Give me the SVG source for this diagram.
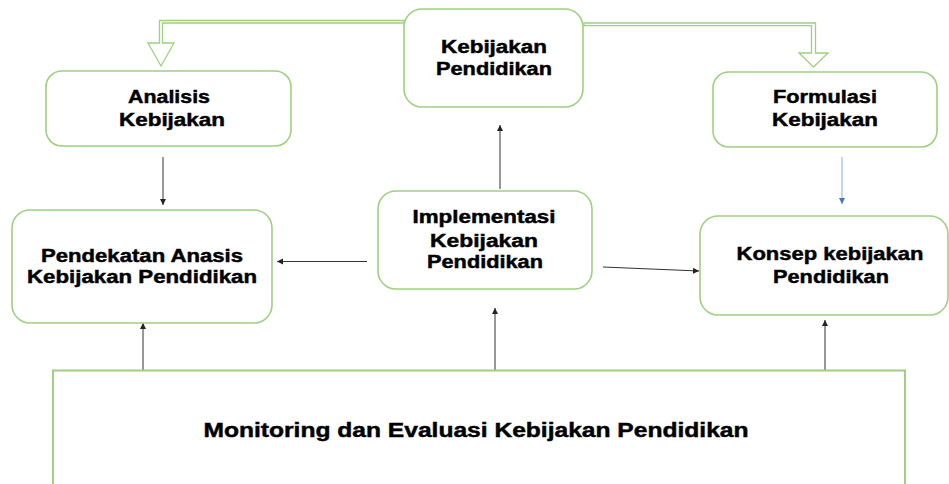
<svg xmlns="http://www.w3.org/2000/svg" width="949" height="484" viewBox="0 0 949 484">
<style>
.box{fill:#fff;stroke:#9dd07f;stroke-width:1.6}
.blk{fill:#fff;stroke:#9dd07f;stroke-width:1.3;stroke-linejoin:miter}
.t{font-family:"Liberation Sans",Arial,sans-serif;font-weight:bold;font-size:18px;fill:#000;stroke:#000;stroke-width:0.45;text-anchor:middle}
.ln{stroke:#333;stroke-width:1;fill:none}
.bl{stroke:#9fb8e6;stroke-width:1.2;fill:none}
</style>
<defs>
<marker id="ah" markerUnits="userSpaceOnUse" markerWidth="8" markerHeight="8" refX="6" refY="3" orient="auto">
<path d="M0,0 L6,3 L0,6 Z" fill="#222"/>
</marker>
<marker id="ahb" markerUnits="userSpaceOnUse" markerWidth="8" markerHeight="8" refX="6" refY="3" orient="auto">
<path d="M0,0 L6,3 L0,6 Z" fill="#4472c4"/>
</marker>
</defs>

<g id="connectors">
<polygon class="blk" points="404,20.5 159.5,20.5 159.5,43 148,43 161,66 174,43 162.5,43 162.5,23 404,23"/>
<polygon class="blk" points="584,23 815.5,23 815.5,53 828,53 813.5,67 799,53 811.5,53 811.5,25.7 584,25.7"/>
<line class="ln" x1="163" y1="157" x2="163" y2="205" marker-end="url(#ah)"/>
<line class="ln" x1="367" y1="261.5" x2="277" y2="261.5" marker-end="url(#ah)"/>
<line class="ln" x1="500" y1="189" x2="500" y2="125" marker-end="url(#ah)"/>
<line class="ln" x1="603" y1="267" x2="699" y2="271" marker-end="url(#ah)"/>
<line class="bl" x1="842" y1="157" x2="842" y2="204" marker-end="url(#ahb)"/>
<line class="ln" x1="143" y1="370" x2="143" y2="323" marker-end="url(#ah)"/>
<line class="ln" x1="495" y1="379" x2="495" y2="308" marker-end="url(#ah)"/>
<line class="ln" x1="825" y1="370" x2="825" y2="320" marker-end="url(#ah)"/>
</g>

<g id="kebijakan-pendidikan">
<rect class="box" x="404" y="9" width="179" height="98" rx="18"/>
<text class="t" x="494" y="53" textLength="106" lengthAdjust="spacingAndGlyphs">Kebijakan</text>
<text class="t" x="494" y="75" textLength="116" lengthAdjust="spacingAndGlyphs">Pendidikan</text>
</g>

<g id="analisis-kebijakan">
<rect class="box" x="46" y="71" width="245" height="75" rx="16"/>
<text class="t" x="169" y="103" textLength="82" lengthAdjust="spacingAndGlyphs">Analisis</text>
<text class="t" x="172" y="126" textLength="106" lengthAdjust="spacingAndGlyphs">Kebijakan</text>
</g>

<g id="formulasi-kebijakan">
<rect class="box" x="713" y="72" width="224" height="75" rx="16"/>
<text class="t" x="825" y="103" textLength="104" lengthAdjust="spacingAndGlyphs">Formulasi</text>
<text class="t" x="825" y="126" textLength="106" lengthAdjust="spacingAndGlyphs">Kebijakan</text>
</g>

<g id="pendekatan">
<rect class="box" x="12" y="210" width="260" height="113" rx="18"/>
<text class="t" x="142" y="262" textLength="202" lengthAdjust="spacingAndGlyphs">Pendekatan Anasis</text>
<text class="t" x="142" y="283" textLength="230" lengthAdjust="spacingAndGlyphs">Kebijakan Pendidikan</text>
</g>

<g id="implementasi">
<rect class="box" x="378" y="191" width="214" height="98" rx="18"/>
<text class="t" x="484" y="223" textLength="143" lengthAdjust="spacingAndGlyphs">Implementasi</text>
<text class="t" x="484" y="247" textLength="108" lengthAdjust="spacingAndGlyphs">Kebijakan</text>
<text class="t" x="485" y="268" textLength="116" lengthAdjust="spacingAndGlyphs">Pendidikan</text>
</g>

<g id="konsep">
<rect class="box" x="700" y="216" width="248" height="99" rx="18"/>
<text class="t" x="830" y="260" textLength="187" lengthAdjust="spacingAndGlyphs">Konsep kebijakan</text>
<text class="t" x="831" y="283" textLength="116" lengthAdjust="spacingAndGlyphs">Pendidikan</text>
</g>

<g id="monitoring">
<rect class="box" x="53" y="370.5" width="852" height="130" style="stroke-width:2"/>
<text class="t" x="476" y="437" style="font-size:20px" textLength="545" lengthAdjust="spacingAndGlyphs">Monitoring dan Evaluasi Kebijakan Pendidikan</text>
</g>
</svg>
